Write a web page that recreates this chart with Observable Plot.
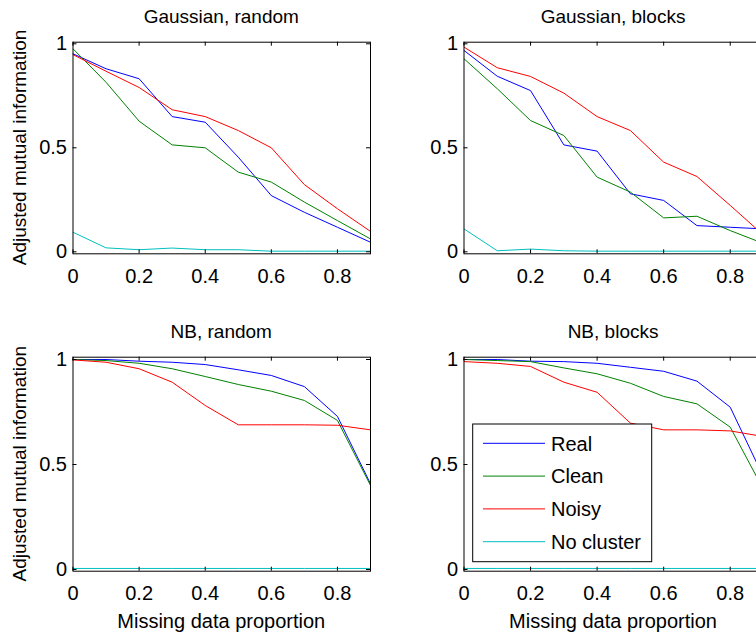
<!DOCTYPE html>
<html><head><meta charset="utf-8">
<script src="https://cdn.jsdelivr.net/npm/d3@7"></script>
<script src="https://cdn.jsdelivr.net/npm/@observablehq/plot@0.6"></script>
<style>
body{margin:0;background:#fff;}
#fig{position:relative;width:756px;height:636px;overflow:hidden;background:#fff;}
#fig > svg{position:absolute;}
</style></head><body><div id="fig"></div>
<script>
// ---- data ----
const missing = [0, 0.1, 0.2, 0.3, 0.4, 0.5, 0.6, 0.7, 0.8, 0.9];
const seriesNames = ["Real", "Clean", "Noisy", "No cluster"];
const seriesColors = ["#0000ff", "#008000", "#ff0000", "#00bfbf"];
const xTicks = [0, 0.2, 0.4, 0.6, 0.8];
const yTicks = [0, 0.5, 1];
const panelTitles = ["Gaussian, random", "Gaussian, blocks", "NB, random", "NB, blocks"];
const yLabel = "Adjusted mutual information";
const xLabel = "Missing data proportion";

const gaussRandomReal  = [0.952, 0.88, 0.832, 0.65, 0.623, 0.455, 0.27, 0.19, 0.118, 0.046];
const gaussRandomClean = [0.976, 0.815, 0.628, 0.514, 0.50, 0.383, 0.335, 0.239, 0.15, 0.062];
const gaussRandomNoisy = [0.948, 0.868, 0.79, 0.683, 0.65, 0.583, 0.50, 0.323, 0.207, 0.098];
const gaussRandomNone  = [0.094, 0.019, 0.01, 0.018, 0.01, 0.01, 0.003, 0.003, 0.003, 0.003];

const gaussBlocksReal  = [0.968, 0.844, 0.775, 0.514, 0.484, 0.279, 0.247, 0.126, 0.118, 0.11];
const gaussBlocksClean = [0.928, 0.784, 0.631, 0.559, 0.359, 0.287, 0.163, 0.171, 0.102, 0.04];
const gaussBlocksNoisy = [0.984, 0.885, 0.843, 0.763, 0.65, 0.583, 0.431, 0.362, 0.223, 0.08];
const gaussBlocksNone  = [0.11, 0.005, 0.013, 0.005, 0.003, 0.003, 0.003, 0.003, 0.003, 0.003];

const nbRandomReal  = [1.0, 1.0, 0.992, 0.987, 0.976, 0.951, 0.924, 0.871, 0.729, 0.408];
const nbRandomClean = [1.0, 0.995, 0.982, 0.956, 0.919, 0.881, 0.849, 0.805, 0.71, 0.40];
const nbRandomNoisy = [0.998, 0.987, 0.956, 0.892, 0.781, 0.689, 0.689, 0.689, 0.687, 0.665];
const nbRandomNone  = [0.005, 0.005, 0.005, 0.005, 0.005, 0.005, 0.005, 0.005, 0.005, 0.005];

const nbBlocksReal  = [1.0, 1.0, 0.992, 0.99, 0.982, 0.963, 0.944, 0.897, 0.773, 0.44];
const nbBlocksClean = [1.0, 0.995, 0.99, 0.96, 0.932, 0.887, 0.824, 0.789, 0.678, 0.38];
const nbBlocksNoisy = [0.99, 0.982, 0.967, 0.892, 0.844, 0.697, 0.665, 0.665, 0.66, 0.633];
const nbBlocksNone  = [0.005, 0.005, 0.005, 0.005, 0.005, 0.005, 0.005, 0.005, 0.005, 0.005];

const panelSeries = [
  [gaussRandomReal, gaussRandomClean, gaussRandomNoisy, gaussRandomNone],
  [gaussBlocksReal, gaussBlocksClean, gaussBlocksNoisy, gaussBlocksNone],
  [nbRandomReal, nbRandomClean, nbRandomNoisy, nbRandomNone],
  [nbBlocksReal, nbBlocksClean, nbBlocksNoisy, nbBlocksNone]
];

// ---- layout ----
const FONT = "'Liberation Sans', Arial, Helvetica, sans-serif";
const layouts = [
  {left: 0,     top: 0,   h: 315, mt: 41.7, fh: 211.6, fw: 297.5, ydom: [-0.0096, 1.0077]},
  {left: 390.8, top: 0,   h: 315, mt: 41.7, fh: 211.6, fw: 299.5, ydom: [-0.0096, 1.0077]},
  {left: 0,     top: 315, h: 321, mt: 41.7, fh: 214,   fw: 297.5, ydom: [-0.0081, 1.011]},
  {left: 390.8, top: 315, h: 321, mt: 41.7, fh: 214,   fw: 299.5, ydom: [-0.0081, 1.011]}
];
const ML = 72.5, W = 400, TICK = 4;
const fig = d3.select("#fig");

panelSeries.forEach((series, p) => {
  const L = layouts[p];
  const rows = [];
  series.forEach((vals, si) => vals.forEach((v, i) => rows.push({x: missing[i], y: v, s: seriesNames[si]})));
  const xdom = [0, 0.9];
  const xt = (xdom[1] - xdom[0]) * TICK / L.fw;
  const yt = (L.ydom[1] - L.ydom[0]) * TICK / L.fh;
  const chart = Plot.plot({
    width: W, height: L.h,
    marginLeft: ML, marginRight: W - ML - L.fw,
    marginTop: L.mt, marginBottom: L.h - L.mt - L.fh,
    style: {fontSize: "20px", fontFamily: FONT, background: "transparent", overflow: "visible", color: "black"},
    x: {domain: xdom},
    y: {domain: L.ydom},
    color: {domain: seriesNames, range: seriesColors},
    marks: [
      Plot.line(rows, {x: "x", y: "y", z: "s", stroke: "s", strokeWidth: 1, clip: true}),
      Plot.frame({stroke: "black", strokeWidth: 1}),
      // inward tick marks on all four sides
      Plot.ruleX(xTicks, {x: d => d, y1: L.ydom[0], y2: L.ydom[0] + yt, stroke: "black"}),
      Plot.ruleX(xTicks, {x: d => d, y1: L.ydom[1], y2: L.ydom[1] - yt, stroke: "black"}),
      Plot.ruleY(yTicks, {y: d => d, x1: xdom[0], x2: xdom[0] + xt, stroke: "black"}),
      Plot.ruleY(yTicks, {y: d => d, x1: xdom[1], x2: xdom[1] - xt, stroke: "black"}),
      Plot.axisX(xTicks, {tickSize: 0, tickPadding: 15, tickFormat: d => String(d), label: null, fontSize: 20}),
      Plot.axisY(yTicks, {tickSize: 0, tickPadding: 6, tickFormat: d => String(d), label: null, fontSize: 20})
    ]
  });
  chart.style.left = L.left + "px";
  chart.style.top = L.top + "px";
  fig.node().appendChild(chart);
});

// ---- overlay text: titles, axis labels, legend ----
const ov = fig.append("svg").attr("width", 756).attr("height", 636)
  .style("left", "0px").style("top", "0px")
  .style("font-family", FONT).style("font-size", "20px");

layouts.forEach((L, p) => {
  const cx = L.left + ML + L.fw / 2;
  ov.append("text").attr("x", cx).attr("y", L.top + L.mt - 18.4)
    .attr("text-anchor", "middle").attr("font-size", 19).text(panelTitles[p]);
  if (p % 2 === 0) {
    const cy = L.top + L.mt + L.fh / 2;
    ov.append("text").attr("transform", `translate(25.5,${cy}) rotate(-90)`)
      .attr("text-anchor", "middle").attr("font-size", 19).text(yLabel);
  }
  if (p >= 2) {
    ov.append("text").attr("x", cx).attr("y", L.top + L.mt + L.fh + 57.6)
      .attr("text-anchor", "middle").text(xLabel);
  }
});

// legend (in the NB, blocks panel)
const lg = ov.append("g");
lg.append("rect").attr("x", 472.7).attr("y", 424).attr("width", 179).attr("height", 137.7)
  .attr("fill", "white").attr("stroke", "black").attr("stroke-width", 1);
seriesNames.forEach((name, i) => {
  const y = 443.3 + i * 32.8;
  lg.append("line").attr("x1", 483).attr("x2", 545).attr("y1", y).attr("y2", y)
    .attr("stroke", seriesColors[i]).attr("stroke-width", 1);
  lg.append("text").attr("x", 551).attr("y", y).attr("dy", "0.36em").text(name);
});
</script>
</body></html>
